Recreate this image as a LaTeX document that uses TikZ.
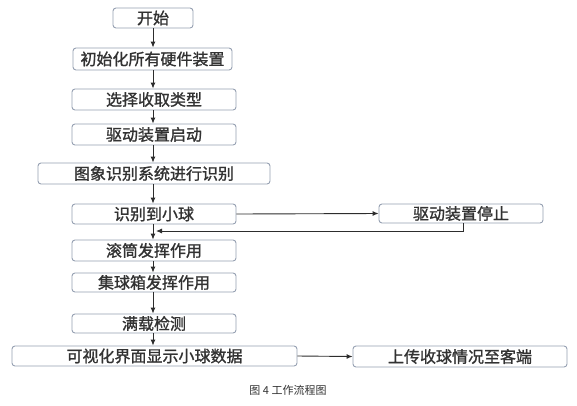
\documentclass[tikz,border=0pt]{standalone}
\usepackage{fontspec}
\setmainfont{Noto Sans CJK SC}
\newfontfamily\cjk{Noto Sans CJK SC}
\newfontfamily\cjkb{Noto Sans CJK SC}[FakeBold=1.2]
\usetikzlibrary{arrows.meta,calc}
\definecolor{boxline}{RGB}{150,160,178}
\definecolor{txt}{RGB}{50,50,50}
\definecolor{arrcol}{RGB}{45,45,45}
\begin{document}
\begin{tikzpicture}[x=1pt,y=-1pt,
  stepbox/.style={draw=boxline,line width=0.9pt,rounded corners=3pt,fill=white,
    inner sep=0pt,text=txt,font=\cjkb\fontsize{16}{16}\selectfont},
  arr/.style={draw=arrcol,line width=0.9pt,-{Latex[length=6pt,width=5pt]}},
  captext/.style={inner sep=0pt,text=txt,font=\cjk\fontsize{11}{11}\selectfont}]
\useasboundingbox[fill=white] (0,0) rectangle (577,405);
\node[stepbox,minimum width=80pt,minimum height=20pt] (s1) at (153,18) {开始};
\node[stepbox,minimum width=159pt,minimum height=22pt] (s2) at (152.5,59) {初始化所有硬件装置};
\node[stepbox,minimum width=164pt,minimum height=21pt] (s3) at (154,99.5) {选择收取类型};
\node[stepbox,minimum width=164pt,minimum height=21pt] (s4) at (154,134.5) {驱动装置启动};
\node[stepbox,minimum width=232pt,minimum height=21pt] (s5) at (154,173.5) {图象识别系统进行识别};
\node[stepbox,minimum width=164pt,minimum height=20pt] (s6) at (154,214) {识别到小球};
\node[stepbox,minimum width=164pt,minimum height=21pt] (s7) at (154,250.5) {滚筒发挥作用};
\node[stepbox,minimum width=164pt,minimum height=19pt] (s8) at (154,282.5) {集球箱发挥作用};
\node[stepbox,minimum width=164pt,minimum height=19pt] (s9) at (154,323.5) {满载检测};
\node[stepbox,minimum width=285pt,minimum height=20pt] (s10) at (154.5,356) {可视化界面显示小球数据};
\node[stepbox,minimum width=164pt,minimum height=19pt] (stop) at (461,213.5) {驱动装置停止};
\node[stepbox,minimum width=214pt,minimum height=21pt] (up) at (460,356.5) {上传收球情况至客端};
\node[captext] (caption) at (288,390) {图 4 工作流程图};
\coordinate (col) at (153,0);
\coordinate (fb) at (156,231);
\foreach \a/\b in {s1/s2,s2/s3,s3/s4,s4/s5,s5/s6,s6/s7,s7/s8,s8/s9,s9/s10}
  \draw[arr] (\a.south -| col) -- (\b.north -| col);
\draw[arr] (s6.east) -- (stop.west);
\draw[arr] ([xshift=2pt]stop.south) |- (fb);
\draw[arr] (s10.east) -- (up.west);
\end{tikzpicture}
\end{document}
